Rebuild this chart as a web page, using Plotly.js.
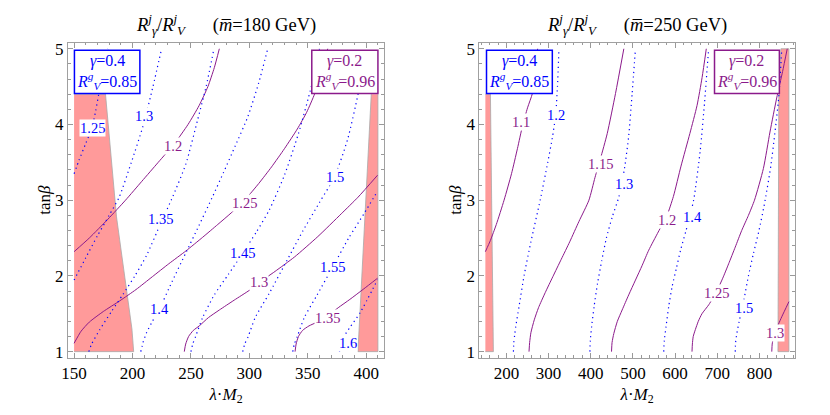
<!DOCTYPE html>
<html><head><meta charset="utf-8">
<script src="https://cdn.plot.ly/plotly-3.0.1.min.js"></script>
<style>html,body{margin:0;padding:0;background:#fff}</style>
</head><body>
<div id="chart" style="width:830px;height:415px"></div>
<script>
// ---------- Panel 1: m̄ = 180 GeV ----------
// gamma = 0.2 (purple, solid) contours
const L_P120_x = [150,163,179,194,208,222,236,247.5,257,264.5,270,274.3];
const L_P120_y = [2.32,2.5,2.75,3.0,3.25,3.5,3.75,4.0,4.25,4.5,4.75,5.0];
const L_P125_x = [150,156,163,175,189,203,217,231,245.7,260,273,285,297,308,319,330,341,349,356,362,367];
const L_P125_y = [1.11,1.27,1.39,1.53,1.67,1.82,1.99,2.16,2.33,2.51,2.68,2.84,3.02,3.22,3.44,3.68,3.94,4.16,4.41,4.7,5.0];
const L_P130_x = [244.3,245.5,248,252,257.1,265,274.3,287,300,310,322,338.6,358.6,378.6,393,409.7];
const L_P130_y = [1,1.1,1.2,1.28,1.34,1.45,1.55,1.68,1.81,1.93,2.06,2.25,2.52,2.82,3.04,3.33];
const L_P135_x = [339.1,340,342,345.5,351,358,367,376,386,398,409.7];
const L_P135_y = [1,1.1,1.2,1.28,1.34,1.39,1.47,1.58,1.69,1.83,1.97];
// gamma = 0.4 (blue, dotted) contours
const L_B125_x = [150,154.3,160,165.4,168.5,171.1,175,179];
const L_B125_y = [3.35,3.53,3.75,3.96,4.18,4.4,4.7,5.0];
const L_B130_x = [150,160,170,180,188.6,199,209,217.5,224.9];
const L_B130_y = [1.945,2.24,2.53,2.8,3.04,3.5,3.98,4.5,5.0];
const L_B135_x = [162.6,165,172,182,192,202,212,224.3,234.5,245.7,255.7,263,269.7];
const L_B135_y = [1,1.1,1.29,1.53,1.76,2.0,2.27,2.7,3.05,3.48,4.06,4.5,5.0];
const L_B140_x = [207.1,209,212,217,222.9,234,245.5,257,268,278,288,298.6,308,315.7];
const L_B140_y = [1,1.12,1.25,1.4,1.56,1.93,2.3,2.67,3.03,3.37,3.72,4.1,4.55,5.0];
const L_B145_x = [250,251.5,254,260,270,282,294.3,306,317,330,342,353,360];
const L_B145_y = [1,1.1,1.2,1.45,1.75,2.02,2.3,2.58,2.87,3.33,3.88,4.5,5.0];
const L_B150_x = [294.3,296,299,305,317,332,346,360,372.9,384,393,400];
const L_B150_y = [1,1.1,1.2,1.45,1.77,2.2,2.6,2.97,3.31,3.8,4.4,5.0];
const L_B155_x = [337.1,338.5,341,347,358,371.4,385,398,409.7];
const L_B155_y = [1,1.1,1.2,1.45,1.75,2.12,2.5,2.82,3.12];
const L_B160_x = [377.1,378.5,381,386,395,409.7];
const L_B160_y = [1,1.1,1.2,1.32,1.52,1.95];
// excluded regions
const L_R1_x = [150,176.9,186.3,195.4,199.5,201,150];
const L_R1_y = [4.4,4.4,2.78,1.73,1.3,1,1];
const L_R2_x = [404.3,392.9,410,410];
const L_R2_y = [4.4,1,1,4.4];
// contour labels
const L_PLab_t = ['1.2','1.25','1.3','1.35'];
const L_PLab_x = [234.5,295.7,308.6,367];
const L_PLab_y = [3.71,2.96,1.92,1.44];
const L_BLab_t = ['1.25','1.3','1.35','1.4','1.45','1.5','1.55','1.6'];
const L_BLab_x = [165.4,210,224.3,222.9,294.3,372.9,371.4,384];
const L_BLab_y = [3.96,4.11,2.75,1.56,2.30,3.31,2.12,1.11];

// ---------- Panel 2: m̄ = 250 GeV ----------
const R_P110_x = [150,162,176,194.3,212,226,238,250,261.5,268,274];
const R_P110_y = [2.32,2.47,2.68,3.0,3.35,3.68,3.98,4.22,4.41,4.7,5.0];
const R_P115_x = [253.5,255,258,266,276,292,310,330,350,372,395.6,410,423,439,458.7,478.4];
const R_P115_y = [1,1.12,1.25,1.42,1.58,1.78,1.99,2.22,2.45,2.72,3.0,3.3,3.55,3.88,4.41,5.0];
const R_P120_x = [449.2,450.5,454.7,463,474.4,490,506,522,537.5,560,580.9,596,614,635,652,664,674];
const R_P120_y = [1,1.12,1.24,1.4,1.55,1.75,1.945,2.14,2.34,2.58,2.8,3.05,3.45,3.88,4.25,4.62,5.0];
const R_P125_x = [640.1,641,643,648,655,663.7,680,699,713,727,742.6,758,774,788.3,809.5,825,841,855,866];
const R_P125_y = [1,1.1,1.2,1.29,1.4,1.5,1.62,1.8,1.97,2.16,2.38,2.6,2.8,3.0,3.42,3.9,4.35,4.7,5.0];
const R_P130_x = [829.3,830.3,833,837.2,845,853,870];
const R_P130_y = [1,1.1,1.18,1.25,1.36,1.46,1.66];
const R_B120_x = [216.5,217.5,219.5,222,230,241.7,258,280,298,309,316.6,321,324.5];
const R_B120_y = [1,1.12,1.22,1.33,1.6,2.0,2.45,3.0,3.5,3.83,4.12,4.5,5.0];
const R_B130_x = [397.9,399,402,408,416,426,437,451,467,480,490,498,506];
const R_B130_y = [1,1.15,1.33,1.6,1.9,2.2,2.5,2.78,3.05,3.42,3.85,4.4,5.0];
const R_B140_x = [573,574.5,578.5,585,593,603,613,626,644,659.7,670,679.5];
const R_B140_y = [1,1.15,1.33,1.6,1.86,2.1,2.34,2.6,3.0,3.66,4.3,5.0];
const R_B150_x = [742.6,743.5,746.5,752,762,774,786,799,813.6,827,837,846.5,853];
const R_B150_y = [1,1.12,1.24,1.4,1.65,2.0,2.3,2.6,3.0,3.45,3.9,4.4,5.0];
const R_R1_x = [150,162,169,150];
const R_R1_y = [4.4,4.4,1,1];
const R_R2_x = [844,870,870,851,846,844];
const R_R2_y = [1,1,5,5,4.4,1];
const R_PLab_t = ['1.1','1.15','1.2','1.25','1.3'];
const R_PLab_x = [233.8,423.2,580.9,699.2,837.2];
const R_PLab_y = [4.03,3.48,2.74,1.78,1.24];
const R_BLab_t = ['1.2','1.3','1.4','1.5'];
const R_BLab_x = [316.6,478.4,640.1,762.3];
const R_BLab_y = [4.12,3.21,2.78,1.57];

// box texts
const boxBlue = ['<i>γ</i>=0.4', '<i>R</i><sup><i>g</i></sup><sub><i>V</i></sub>=0.85'];
const boxPurple = ['<i>γ</i>=0.2', '<i>R</i><sup><i>g</i></sup><sub><i>V</i></sub>=0.96'];
const titles = ['180', '250'];

// ---------- styling & build ----------
const FONT = '"Liberation Serif", "Times New Roman", serif';
const PURPLE = '#8b1a8b', BLUE = '#0000ff';
const traces = [];
function region(x, y, xa, ya) {
  traces.push({x, y, xaxis: xa, yaxis: ya, mode: 'lines', fill: 'toself',
    fillcolor: '#ff9a9a', line: {color: '#a8a8a8', width: 0.8}, hoverinfo: 'skip'});
}
function cline(x, y, xa, ya, color, dotted) {
  traces.push({x, y, xaxis: xa, yaxis: ya, mode: 'lines',
    line: {color, width: dotted ? 1.2 : 1, dash: dotted ? '1.2px,3.6px' : 'solid', shape: 'spline', smoothing: 0.6},
    hoverinfo: 'skip'});
}
region(L_R1_x, L_R1_y, 'x', 'y'); region(L_R2_x, L_R2_y, 'x', 'y');
region(R_R1_x, R_R1_y, 'x2', 'y2'); region(R_R2_x, R_R2_y, 'x2', 'y2');
[[L_P120_x,L_P120_y],[L_P125_x,L_P125_y],[L_P130_x,L_P130_y],[L_P135_x,L_P135_y]]
  .forEach(p => cline(p[0], p[1], 'x', 'y', PURPLE, false));
[[L_B125_x,L_B125_y],[L_B130_x,L_B130_y],[L_B135_x,L_B135_y],[L_B140_x,L_B140_y],
 [L_B145_x,L_B145_y],[L_B150_x,L_B150_y],[L_B155_x,L_B155_y],[L_B160_x,L_B160_y]]
  .forEach(p => cline(p[0], p[1], 'x', 'y', BLUE, true));
[[R_P110_x,R_P110_y],[R_P115_x,R_P115_y],[R_P120_x,R_P120_y],[R_P125_x,R_P125_y],[R_P130_x,R_P130_y]]
  .forEach(p => cline(p[0], p[1], 'x2', 'y2', PURPLE, false));
[[R_B120_x,R_B120_y],[R_B130_x,R_B130_y],[R_B140_x,R_B140_y],[R_B150_x,R_B150_y]]
  .forEach(p => cline(p[0], p[1], 'x2', 'y2', BLUE, true));

const annotations = [];
function labels(t, x, y, xa, ya, color) {
  t.forEach((s, i) => annotations.push({text: s, x: x[i], y: y[i], xref: xa, yref: ya,
    showarrow: false, bgcolor: 'white', borderpad: 0, font: {family: FONT, size: 14.5, color}}));
}
labels(L_PLab_t, L_PLab_x, L_PLab_y, 'x', 'y', PURPLE);
labels(L_BLab_t, L_BLab_x, L_BLab_y, 'x', 'y', BLUE);
labels(R_PLab_t, R_PLab_x, R_PLab_y, 'x2', 'y2', PURPLE);
labels(R_BLab_t, R_BLab_x, R_BLab_y, 'x2', 'y2', BLUE);

const shapes = [];
function box(x0, x1, xa, ya, color, lines) {
  shapes.push({type: 'rect', xref: xa, yref: ya, x0, x1, y0: 4.41, y1: 4.98,
    fillcolor: 'white', line: {color, width: 1.5}, layer: 'above'});
  const xc = (x0 + x1) / 2;
  annotations.push({text: lines[0], x: xc, y: 4.835, xref: xa, yref: ya, showarrow: false,
    font: {family: FONT, size: 16, color}});
  annotations.push({text: lines[1], x: xc, y: 4.575, xref: xa, yref: ya, showarrow: false,
    font: {family: FONT, size: 16, color}});
}
box(150.3, 206.3, 'x', 'y', BLUE, boxBlue);
box(353.4, 410, 'x', 'y', PURPLE, boxPurple);
box(152.7, 308.8, 'x2', 'y2', BLUE, boxBlue);
box(693.5, 847.3, 'x2', 'y2', PURPLE, boxPurple);

['x', 'x2'].forEach((xa, i) => annotations.push({
  text: '<i>R</i><sup><i>j</i></sup><sub><i>γ</i></sub>/<i>R</i><sup><i>j</i></sup><sub><i>V</i></sub>\u00a0\u00a0\u00a0\u00a0\u00a0\u00a0(<i>m\u0305</i>=' + titles[i] + '\u00a0GeV)',
  xref: xa + ' domain', x: 0.5, yref: 'paper', y: 0.94, yanchor: 'middle', showarrow: false,
  font: {family: FONT, size: 18.5, color: 'black'}}));

function xax(domain, range, dtick, mdtick, anchor) {
  return {domain, range, anchor, tick0: 0, dtick, ticks: 'inside', ticklen: 5, tickcolor: '#999',
    showline: true, linecolor: '#a0a0a0', linewidth: 1, mirror: 'ticks', showgrid: false, zeroline: false,
    minor: {dtick: mdtick, tick0: 0, ticks: 'inside', ticklen: 2.5, tickcolor: '#999', showgrid: false},
    tickfont: {family: FONT, size: 17, color: 'black'},
    title: {text: '<i>λ</i>·<i>M</i><sub>2</sub>', font: {family: FONT, size: 17, color: 'black'}, standoff: 5}};
}
function yax(anchor) {
  return {domain: [0.13807, 0.89711], range: [0.92, 5.08], anchor, tick0: 0, dtick: 1,
    ticks: 'inside', ticklen: 5, tickcolor: '#999', showline: true, linecolor: '#a0a0a0', linewidth: 1,
    mirror: 'ticks', showgrid: false, zeroline: false,
    minor: {dtick: 0.2, ticks: 'inside', ticklen: 2.5, tickcolor: '#999', showgrid: false},
    tickfont: {family: FONT, size: 17, color: 'black'},
    title: {text: 'tan<i>β</i>', font: {family: FONT, size: 17, color: 'black'}, standoff: 0}};
}
const layout = {
  width: 830, height: 415, margin: {l: 0, r: 0, t: 0, b: 0},
  paper_bgcolor: 'white', plot_bgcolor: 'white', showlegend: false,
  font: {family: FONT, size: 17, color: 'black'},
  xaxis: xax([0.08193, 0.46265], [144.8, 415.2], 50, 10, 'y'),
  yaxis: yax('x'),
  xaxis2: xax([0.57747, 0.95783], [135.6, 884.4], 100, 20, 'y2'),
  yaxis2: yax('x2'),
  shapes, annotations
};
Plotly.newPlot('chart', traces, layout, {staticPlot: true, displayModeBar: false});
</script>
</body></html>
